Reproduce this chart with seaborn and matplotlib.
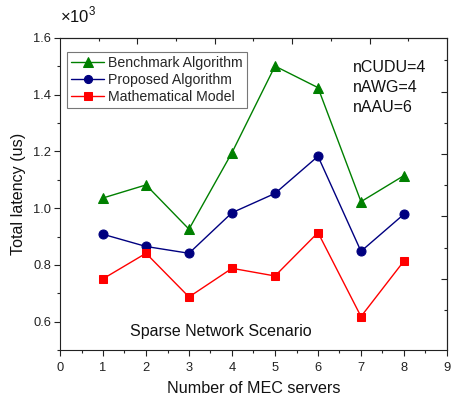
import numpy as np
import pandas as pd
import matplotlib
matplotlib.use("Agg")
import matplotlib.pyplot as plt
from matplotlib.ticker import MultipleLocator, FixedLocator, NullFormatter
import seaborn as sns

# Data (latency in units of 10^3 us)
servers = [1, 2, 3, 4, 5, 6, 7, 8]
benchmark = [1.036, 1.082, 0.926, 1.196, 1.501, 1.425, 1.023, 1.115]
proposed = [0.908, 0.865, 0.841, 0.984, 1.052, 1.183, 0.848, 0.979]
math_model = [0.751, 0.841, 0.687, 0.788, 0.761, 0.914, 0.618, 0.814]

series_names = ["Benchmark Algorithm", "Proposed Algorithm", "Mathematical Model"]
series_values = [benchmark, proposed, math_model]
colors = ["#008000", "#000080", "#FF0000"]
markers = ["^", "o", "s"]
msizes = [7.5, 6.5, 6.2]

sns.set_style("ticks")
plt.rcParams["font.family"] = ["Liberation Sans", "DejaVu Sans"]
plt.rcParams["mathtext.fontset"] = "custom"
plt.rcParams["mathtext.rm"] = "Liberation Sans"

fig = plt.figure(figsize=(4.52, 3.97), dpi=100)
ax = fig.add_axes([60 / 452, 1 - 350 / 397, 387 / 452, 312 / 397])

for name, vals, c, m, ms in zip(series_names, series_values, colors, markers, msizes):
    df = pd.DataFrame({"x": servers, "y": vals})
    sns.lineplot(data=df, x="x", y="y", ax=ax, color=c, marker=m, markersize=ms,
                 markeredgecolor=c, markerfacecolor=c, linewidth=1.0, label=name)

ax.set_xlim(0, 9)
ax.set_ylim(0.5, 1.6)
ax.xaxis.set_major_locator(MultipleLocator(1))
ax.xaxis.set_minor_locator(MultipleLocator(0.5))
ax.yaxis.set_major_locator(FixedLocator([0.6, 0.8, 1.0, 1.2, 1.4, 1.6]))
ax.yaxis.set_minor_locator(FixedLocator([0.5, 0.7, 0.9, 1.1, 1.3, 1.5]))
ax.yaxis.set_major_formatter(matplotlib.ticker.FormatStrFormatter("%.1f"))
ax.tick_params(which="major", direction="out", length=4.5, width=0.8, labelsize=9.3,
               colors="#222222")
ax.tick_params(axis="x", which="major", pad=4)
ax.tick_params(axis="y", which="major", pad=2)
ax.tick_params(which="minor", direction="out", length=2.5, width=0.8)
for s in ax.spines.values():
    s.set_linewidth(0.8)
    s.set_color("#222222")

# Inward ticks on the top and right frame edges
top = ax.secondary_xaxis("top", functions=(lambda v: v / 9.0, lambda v: v * 9.0))
top.xaxis.set_major_locator(FixedLocator([0.2, 0.4, 0.6, 0.8]))
top.xaxis.set_minor_locator(FixedLocator([0.1, 0.3, 0.5, 0.7, 0.9]))
top.xaxis.set_major_formatter(NullFormatter())
top.tick_params(which="major", direction="in", length=4.5, width=0.8, colors="#222222")
top.tick_params(which="minor", direction="in", length=2.5, width=0.8, colors="#222222")
top.spines["top"].set_linewidth(0.8)

right = ax.secondary_yaxis("right", functions=(lambda v: (v - 0.5) / 1.1, lambda v: v * 1.1 + 0.5))
right.yaxis.set_major_locator(FixedLocator([0.128 + 0.1 * k for k in (1, 3, 5, 7)]))
right.yaxis.set_minor_locator(FixedLocator([0.128 + 0.1 * k for k in (0, 2, 4, 6, 8)]))
right.yaxis.set_major_formatter(NullFormatter())
right.tick_params(which="major", direction="in", length=4.5, width=0.8, colors="#222222")
right.tick_params(which="minor", direction="in", length=2.5, width=0.8, colors="#222222")
right.spines["right"].set_linewidth(0.8)

ax.set_xlabel("Number of MEC servers", fontsize=11.6, labelpad=5, color="#111111")
ax.set_ylabel("Total latency (us)", fontsize=11.6, labelpad=5, color="#111111")

ax.text(0.0, 1.04, r"$\times$10$^3$", transform=ax.transAxes, fontsize=12,
        ha="left", va="bottom", color="#111111")

leg = ax.legend(loc="upper left", bbox_to_anchor=(0.018, 0.955), borderaxespad=0,
                fontsize=10.2, fancybox=False, frameon=True, edgecolor="#555555",
                handlelength=2.3, handletextpad=0.3, labelspacing=0.2,
                borderpad=0.3, markerscale=0.9)
leg.get_frame().set_linewidth(0.8)

for label, ypx in zip(["nCUDU=4", "nAWG=4", "nAAU=6"], [67, 87, 108]):
    ax.text((353 - 60) / 387, (350 - ypx) / 312, label, transform=ax.transAxes,
            fontsize=11.5, ha="left", va="center", color="#111111")

ax.text((130 - 60) / 387, (350 - 331.5) / 312, "Sparse Network Scenario",
        transform=ax.transAxes, fontsize=11.5, ha="left", va="center", color="#111111")

fig.savefig("out.png", dpi=100)
